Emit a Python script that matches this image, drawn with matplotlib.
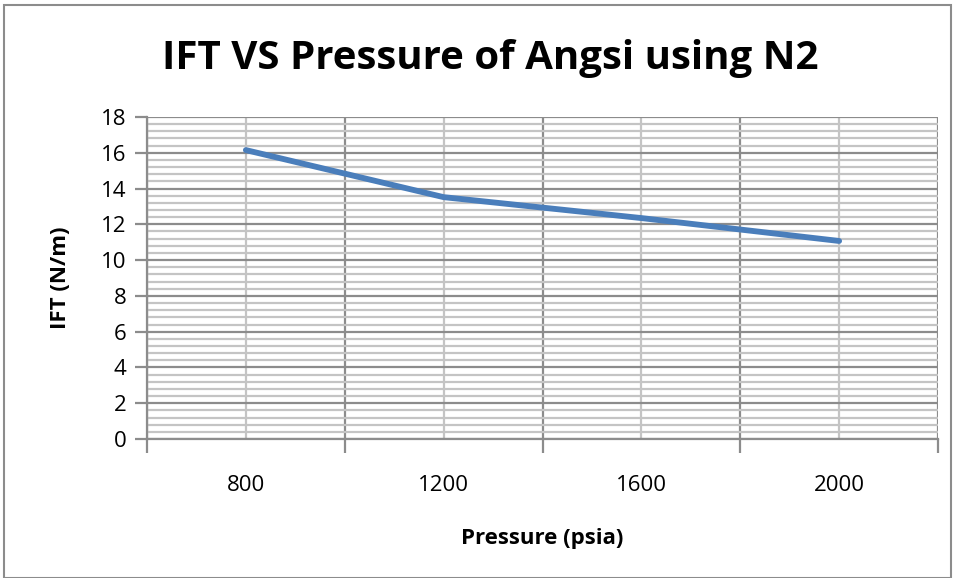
import matplotlib
matplotlib.use("Agg")
import matplotlib.pyplot as plt
from matplotlib.patches import Rectangle
import numpy as np

pressures = ["800", "1200", "1600", "2000"]
ift = [16.15, 13.52, 12.35, 11.07]

title = "IFT VS Pressure of Angsi using N2"
xlabel = "Pressure (psia)"
ylabel = "IFT (N/m)"

plt.rcParams['font.family'] = ['Open Sans', 'DejaVu Sans']

W, H = 956, 578
fig = plt.figure(figsize=(W/100, H/100), dpi=100)
ax = fig.add_axes([147/W, 1-439/H, (938-147)/W, (439-117)/H])

x = np.arange(len(pressures))
ax.set_xlim(-0.5, len(pressures)-0.5)
ax.set_ylim(0, 18)

# gridlines
ax.set_yticks(np.arange(0, 18.1, 2))
ax.set_yticks(np.arange(0, 18.01, 0.4), minor=True)
ax.set_xticks(np.arange(-0.5, len(pressures), 1.0))
ax.set_xticklabels([])
ax.set_xticks(x, minor=True)
ax.set_xticklabels(pressures, minor=True)

ax.grid(which='major', color='#8c8c8c', linewidth=1.6)
ax.grid(which='minor', color='#c4c4c4', linewidth=1.6)
ax.set_axisbelow(True)

ax.plot(x, ift, color='#4a7ebb', linewidth=4.2, solid_capstyle='round', zorder=3)

for s in ['top', 'right']:
    ax.spines[s].set_visible(False)
for s in ['left', 'bottom']:
    ax.spines[s].set_color('#8c8c8c')
    ax.spines[s].set_linewidth(1.6)

ax.tick_params(axis='y', which='major', length=9, width=1.6, color='#8c8c8c',
               labelsize=16, pad=6)
ax.tick_params(axis='y', which='minor', length=0)
ax.tick_params(axis='x', which='major', length=10, width=1.6, color='#8c8c8c')
ax.tick_params(axis='x', which='minor', length=0, labelsize=16, pad=26)

ax.set_xlabel(xlabel, fontsize=16, fontweight='bold', labelpad=23)
ax.set_ylabel(ylabel, fontsize=16, fontweight='bold', labelpad=21)

fig.text(490/W, 1-58/H, title, fontsize=29, fontweight='bold',
         ha='center', va='center')

fig.patches.append(Rectangle((4/W, 0), (951-4)/W, 1-5/H, transform=fig.transFigure,
                             fill=False, edgecolor='#8c8c8c', linewidth=1.5))

fig.savefig('out.png', dpi=100, facecolor='white')
